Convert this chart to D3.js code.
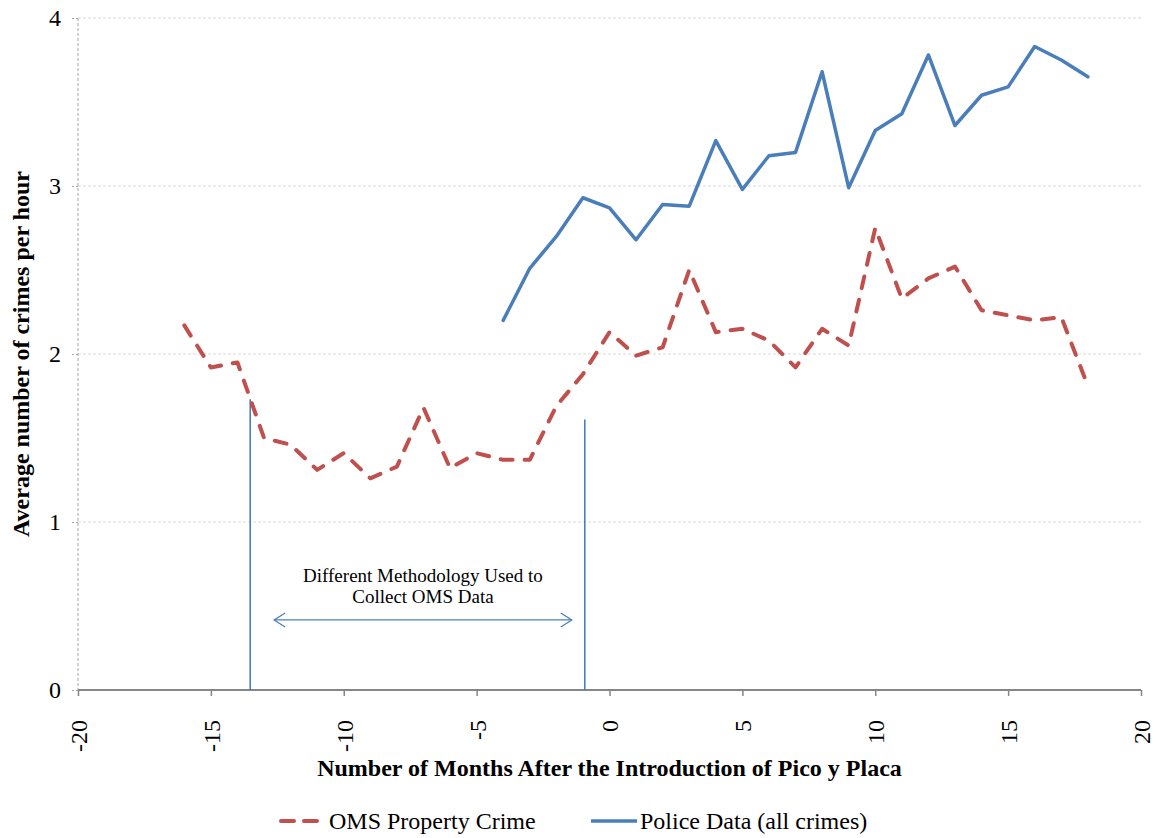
<!DOCTYPE html>
<html>
<head>
<meta charset="utf-8">
<script src="https://cdn.jsdelivr.net/npm/d3@7"></script>
<style>
  html, body { margin: 0; padding: 0; background: #fff; }
  svg { display: block; font-family: "Liberation Serif", "Times New Roman", serif; }
</style>
</head>
<body>
<svg id="chart" width="1164" height="838"></svg>
<script>
// Months relative to the introduction of Pico y Placa
const omsMonths = d3.range(-16, 19);
const omsValues = [2.17, 1.92, 1.95, 1.50, 1.46, 1.31, 1.41, 1.26, 1.33, 1.68,
                   1.32, 1.41, 1.37, 1.37, 1.69, 1.88, 2.13, 1.99, 2.04, 2.50,
                   2.13, 2.15, 2.08, 1.92, 2.15, 2.05, 2.75, 2.33, 2.45, 2.52,
                   2.26, 2.23, 2.20, 2.22, 1.81];
const policeMonths = d3.range(-4, 19);
const policeValues = [2.20, 2.51, 2.70, 2.93, 2.87, 2.68, 2.89, 2.88, 3.27, 2.98,
                      3.18, 3.20, 3.68, 2.99, 3.33, 3.43, 3.78, 3.36, 3.54, 3.59,
                      3.83, 3.75, 3.65];
const xTicks = [-20, -15, -10, -5, 0, 5, 10, 15, 20];
const yTicks = [0, 1, 2, 3, 4];
const seriesNames = ["OMS Property Crime", "Police Data (all crimes)"];
const noteLines = ["Different Methodology Used to", "Collect OMS Data"];
// Span where OMS used a different collection method
const methodStart = { x: -13.52, top: 1.73 };
const methodEnd = { x: -0.93, top: 1.61 };
const arrowSpan = { from: -12.62, to: -1.42, y: 0.417 };

const svg = d3.select("#chart");
const margin = { left: 78, right: 23, top: 18, bottom: 148 };
const W = 1164, H = 838;
const x = d3.scaleLinear().domain([-20, 20]).range([margin.left, W - margin.right]);
const y = d3.scaleLinear().domain([0, 4]).range([H - margin.bottom, margin.top]);

const red = "#c0504d", blue = "#4a7ebb";
const serif = "Liberation Serif, Times New Roman, serif";

// Horizontal gridlines
svg.append("g").selectAll("line").data(yTicks.filter(d => d > 0)).join("line")
  .attr("x1", x(-20)).attr("x2", x(20))
  .attr("y1", d => y(d)).attr("y2", d => y(d))
  .attr("stroke", "#d9d9d9").attr("stroke-width", 1).attr("stroke-dasharray", "3,2");

// Y axis (dashed)
const yAxis = svg.append("g").attr("transform", `translate(${x(-20)},0)`)
  .call(d3.axisLeft(y).tickValues(yTicks).tickSize(7).tickPadding(10).tickFormat(d => String(d)));
yAxis.select(".domain").attr("stroke", "#a6a6a6").attr("stroke-dasharray", "3,2").attr("d", `M0,${y(4)}V${y(0)}`);
yAxis.selectAll(".tick line").attr("stroke", "#a6a6a6").attr("stroke-dasharray", "2,2");
yAxis.selectAll(".tick text").attr("font-size", 24).attr("fill", "#000")
  .attr("font-family", serif);

// X axis
const xAxis = svg.append("g").attr("transform", `translate(0,${y(0)})`)
  .call(d3.axisBottom(x).tickValues(xTicks).tickSize(6).tickFormat(d => String(d)));
xAxis.select(".domain").attr("stroke", "#868686").attr("stroke-width", 2).attr("d", `M${x(-20)},0H${x(20)}`);
xAxis.selectAll(".tick line").attr("stroke", "#868686").attr("stroke-width", 1.5);
xAxis.selectAll(".tick text")
  .attr("transform", "rotate(-90)")
  .attr("x", -30).attr("y", 0).attr("dy", "0.35em")
  .attr("text-anchor", "end")
  .attr("font-size", 24).attr("fill", "#000")
  .attr("font-family", serif);

// Methodology annotation
const ann = svg.append("g").attr("stroke", blue);
[methodStart, methodEnd].forEach(m => {
  ann.append("line")
    .attr("x1", x(m.x)).attr("x2", x(m.x))
    .attr("y1", y(m.top)).attr("y2", y(0))
    .attr("stroke-width", 1.6);
});
ann.append("line")
  .attr("x1", x(arrowSpan.from)).attr("x2", x(arrowSpan.to))
  .attr("y1", y(arrowSpan.y)).attr("y2", y(arrowSpan.y))
  .attr("stroke-width", 1.3);
[[arrowSpan.from, 1], [arrowSpan.to, -1]].forEach(([v, dir]) => {
  const px = x(v), py = y(arrowSpan.y);
  ann.append("path")
    .attr("d", `M${px + dir * 11},${py - 7}L${px},${py}L${px + dir * 11},${py + 7}`)
    .attr("fill", "none").attr("stroke-width", 1.3);
});
const noteX = (x(arrowSpan.from) + x(arrowSpan.to)) / 2;
svg.append("g").selectAll("text").data(noteLines).join("text")
  .attr("x", noteX).attr("y", (d, i) => 582 + i * 21)
  .attr("text-anchor", "middle").attr("font-size", 19).attr("fill", "#000")
  .attr("font-family", serif)
  .text(d => d);

// Series lines
const line = d3.line().x(d => x(d[0])).y(d => y(d[1]));
const omsData = omsMonths.map((m, i) => [m, omsValues[i]]);
const policeData = policeMonths.map((m, i) => [m, policeValues[i]]);

svg.append("path").datum(policeData)
  .attr("d", line).attr("fill", "none")
  .attr("stroke", blue).attr("stroke-width", 3.5)
  .attr("stroke-linejoin", "round").attr("stroke-linecap", "round");

svg.append("path").datum(omsData)
  .attr("d", line).attr("fill", "none")
  .attr("stroke", red).attr("stroke-width", 4)
  .attr("stroke-dasharray", "12,12")
  .attr("stroke-linejoin", "round").attr("stroke-linecap", "round");

// Axis titles
svg.append("text")
  .attr("x", (x(-20) + x(20)) / 2).attr("y", 776)
  .attr("text-anchor", "middle").attr("font-size", 24).attr("font-weight", "bold")
  .attr("font-family", serif)
  .text("Number of Months After the Introduction of Pico y Placa");
svg.append("text")
  .attr("transform", `translate(29,${y(2)}) rotate(-90)`)
  .attr("text-anchor", "middle").attr("font-size", 24).attr("font-weight", "bold")
  .attr("font-family", serif)
  .text("Average number of crimes per hour");

// Legend
const legY = 821;
const leg = svg.append("g").attr("font-family", serif);
leg.append("line").attr("x1", 281).attr("x2", 325).attr("y1", legY).attr("y2", legY)
  .attr("stroke", red).attr("stroke-width", 4).attr("stroke-dasharray", "13,10")
  .attr("stroke-linecap", "round");
leg.append("text").attr("x", 329).attr("y", legY).attr("dy", "0.35em")
  .attr("font-size", 24).text(seriesNames[0]);
leg.append("line").attr("x1", 591).attr("x2", 637).attr("y1", legY).attr("y2", legY)
  .attr("stroke", blue).attr("stroke-width", 3.5);
leg.append("text").attr("x", 640).attr("y", legY).attr("dy", "0.35em")
  .attr("font-size", 24).text(seriesNames[1]);
</script>
</body>
</html>
